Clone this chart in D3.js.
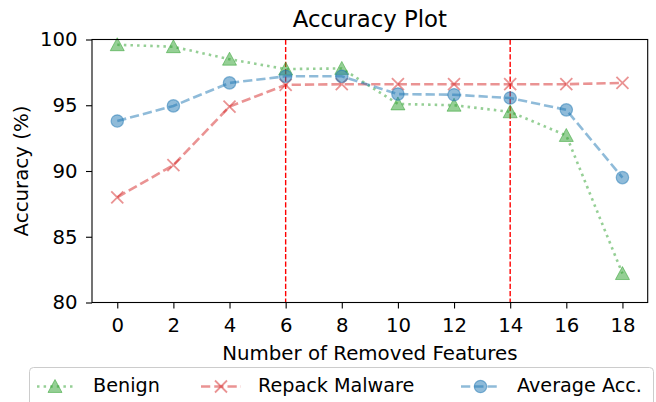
<!DOCTYPE html>
<html><head><meta charset="utf-8">
<script src="https://cdn.jsdelivr.net/npm/d3@7"></script>
<style>body{margin:0;background:#fff}svg{display:block;font-family:"DejaVu Sans",sans-serif}</style>
</head><body><svg id="c" width="656" height="402"></svg>
<script>
const features = [0, 2, 4, 6, 8, 10, 12, 14, 16, 18];
const benign = [99.6, 99.45, 98.5, 97.75, 97.8, 95.1, 95.0, 94.5, 92.7, 82.2];
const repack = [88.0, 90.45, 94.9, 96.55, 96.6, 96.6, 96.6, 96.6, 96.6, 96.7];
const average = [93.8, 94.95, 96.7, 97.2, 97.2, 95.85, 95.8, 95.55, 94.65, 89.5];
const xTicks = [0, 2, 4, 6, 8, 10, 12, 14, 16, 18];
const yTicks = [80, 85, 90, 95, 100];
const vLines = [6, 14];
const seriesNames = ["Benign", "Repack Malware", "Average Acc."];

const svg = d3.select("#c");
const L = 92, R = 647.7, T = 39.5, B = 302.5;
const x = d3.scaleLinear().domain([-0.9, 18.9]).range([L, R]);
const y = d3.scaleLinear().domain([80, 100]).range([B, T]);

const series = [
  {name: seriesNames[0], vals: benign, color: "#2ca02c", dash: "2.5,4.1", marker: "tri"},
  {name: seriesNames[1], vals: repack, color: "#d62728", dash: "9.25,4", marker: "x"},
  {name: seriesNames[2], vals: average, color: "#1f77b4", dash: "9.25,4", marker: "circle"}
];

// axes
const fs = 19.7;
const xAxis = svg.append("g").attr("transform", `translate(0,${B})`)
  .call(d3.axisBottom(x).tickValues(xTicks).tickSize(6).tickPadding(9.5).tickFormat(d3.format("d")));
const yAxis = svg.append("g").attr("transform", `translate(${L},0)`)
  .call(d3.axisLeft(y).tickValues(yTicks).tickSize(6).tickPadding(8.5).tickFormat(d3.format("d")));
[xAxis, yAxis].forEach(a => {
  a.select(".domain").remove();
  a.selectAll("line").attr("stroke", "#000").attr("stroke-width", 1.1);
  a.selectAll("text").attr("font-size", fs).attr("fill", "#000").attr("font-family", "DejaVu Sans");
});
xAxis.selectAll("text").attr("dy", "0.71em");

// vertical dashed lines
vLines.forEach(v => {
  svg.append("line").attr("x1", x(v)).attr("x2", x(v)).attr("y1", T).attr("y2", B)
    .attr("stroke", "#ff0000").attr("stroke-width", 1.4).attr("stroke-dasharray", "5.2,2.2");
});

function drawMarker(g, type, cx, cy, color) {
  if (type === "tri") {
    const r = 7;
    g.append("path").attr("d", `M${cx},${cy - r}L${cx - r},${cy + r * 0.85}L${cx + r},${cy + r * 0.85}Z`)
      .attr("fill", color).attr("fill-opacity", 0.5).attr("stroke", color).attr("stroke-opacity", 0.5).attr("stroke-width", 1);
  } else if (type === "x") {
    const r = 6;
    g.append("path").attr("d", `M${cx - r},${cy - r}L${cx + r},${cy + r}M${cx - r},${cy + r}L${cx + r},${cy - r}`)
      .attr("stroke", color).attr("stroke-opacity", 0.5).attr("stroke-width", 1.8).attr("fill", "none");
  } else {
    g.append("circle").attr("cx", cx).attr("cy", cy).attr("r", 6.2)
      .attr("fill", color).attr("fill-opacity", 0.5).attr("stroke", color).attr("stroke-opacity", 0.5).attr("stroke-width", 1.2);
  }
}

const line = d3.line();
series.forEach(s => {
  const g = svg.append("g");
  const pts = features.map((f, i) => [x(f), y(s.vals[i])]);
  g.append("path").attr("d", line(pts)).attr("fill", "none").attr("stroke", s.color)
    .attr("stroke-opacity", 0.5).attr("stroke-width", 2.6).attr("stroke-dasharray", s.dash);
  pts.forEach(p => drawMarker(g, s.marker, p[0], p[1], s.color));
});

// frame
svg.append("rect").attr("x", L).attr("y", T).attr("width", R - L).attr("height", B - T)
  .attr("fill", "none").attr("stroke", "#000").attr("stroke-width", 1.1);

// title and labels
svg.append("text").attr("x", (L + R) / 2).attr("y", 26.7).attr("text-anchor", "middle")
  .attr("font-size", 22.8).text("Accuracy Plot");
svg.append("text").attr("x", (L + R) / 2).attr("y", 360).attr("text-anchor", "middle")
  .attr("font-size", 19.8).text("Number of Removed Features");
svg.append("text").attr("transform", `translate(28,${(T + B) / 2}) rotate(-90)`).attr("text-anchor", "middle")
  .attr("font-size", 19.8).text("Accuracy (%)");

// legend
svg.append("rect").attr("x", 29.5).attr("y", 367.5).attr("width", 624).attr("height", 45).attr("rx", 4)
  .attr("fill", "#fff").attr("fill-opacity", 0.8).attr("stroke", "#ccc").attr("stroke-width", 1);
const handles = [{x0: 37, x1: 73, tx: 93}, {x0: 201, x1: 241, tx: 258}, {x0: 461, x1: 500, tx: 517}];
series.forEach((s, i) => {
  const h = handles[i];
  const g = svg.append("g");
  const ly = 386.5;
  g.append("line").attr("x1", h.x0).attr("x2", h.x1).attr("y1", ly).attr("y2", ly)
    .attr("stroke", s.color).attr("stroke-opacity", 0.5).attr("stroke-width", 2.6).attr("stroke-dasharray", s.dash);
  drawMarker(g, s.marker, (h.x0 + h.x1) / 2, ly, s.color);
  svg.append("text").attr("x", h.tx).attr("y", 392).attr("font-size", 19.2).text(s.name);
});
</script></body></html>
